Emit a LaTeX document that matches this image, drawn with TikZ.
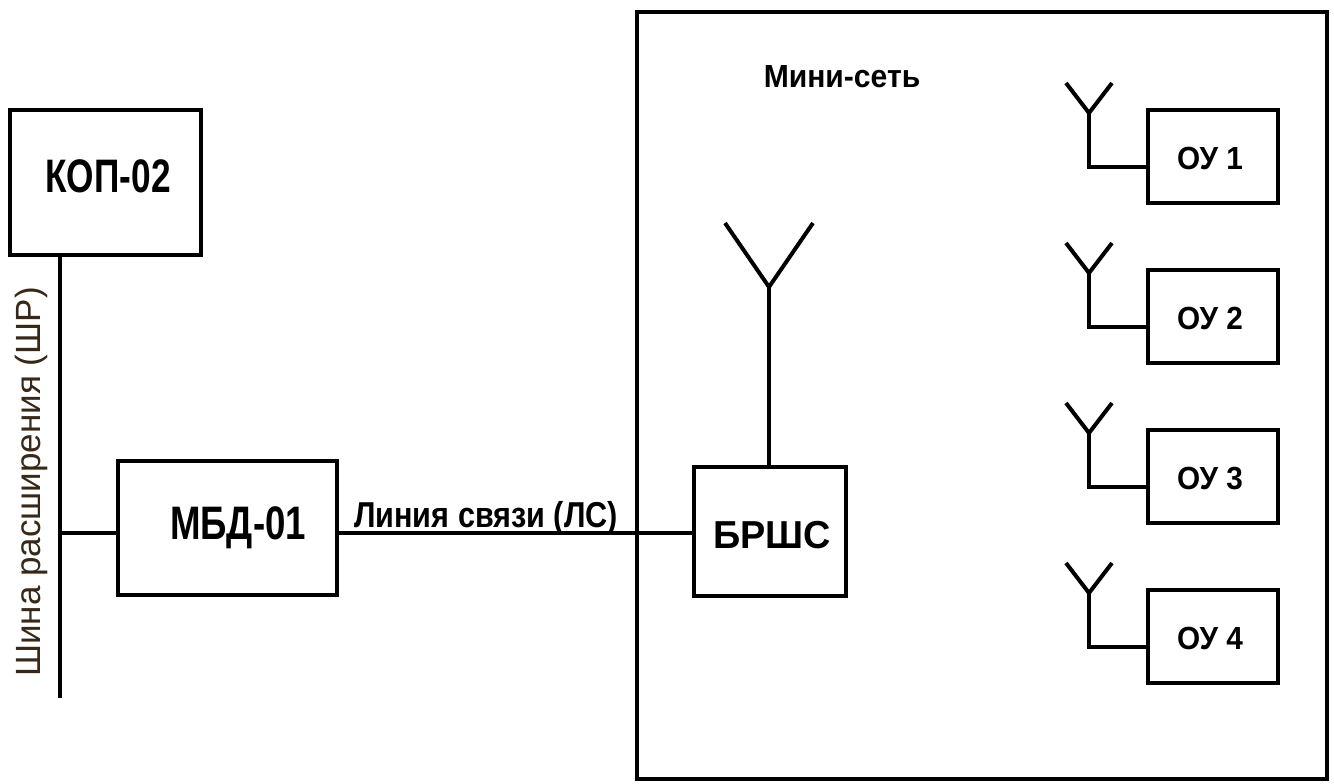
\documentclass[tikz,border=0pt]{standalone}
\usepackage{fontspec}
\usepackage{graphicx}
\setmainfont{Liberation Sans}
\definecolor{bustext}{RGB}{55,40,25}
\begin{document}
\begin{tikzpicture}[x=1pt,y=-1pt,
  line width=4pt,
  blk/.style={draw, line width=4pt, inner sep=0pt, outer sep=0pt},
  lbl/.style={inner sep=0pt, outer sep=0pt, anchor=base, font=\bfseries},
  wire/.style={line width=4pt},
  ant/.style={line width=4pt, line join=miter}]
\useasboundingbox (0,0) rectangle (1334,784);

% outer frame of the mini-network
\node[blk, minimum width=690pt, minimum height=767pt] (net) at (982,395.5) {};

% blocks
\node[blk, minimum width=191pt, minimum height=145pt] (kop) at (105.5,182.5) {};
\node[blk, minimum width=219pt, minimum height=134pt] (mbd) at (227.5,528) {};
\node[blk, minimum width=152pt, minimum height=129pt] (brs) at (770,531.5) {};

\foreach \k/\t in {1/108,2/268,3/428,4/588}{
  \node[blk, minimum width=130pt, minimum height=93pt] (ou\k) at (1213,\t+48.5) {};
  \node[lbl, font=\bfseries\fontsize{32}{36}\selectfont] (tou\k) at (1210,\t+61) {\scalebox{0.93}[1]{ОУ \k}};
  \coordinate (ap\k) at (1089,\t+5);
  \coordinate (al\k) at (1066,\t-25);
  \coordinate (ar\k) at (1112,\t-25);
  \coordinate (an\k) at (1089,\t+59);
  \draw[ant] (al\k) -- (ap\k) -- (ar\k);
  \draw[wire] (ap\k) -- (an\k) -- (ou\k.west |- an\k);
}

% labels
\node[lbl, font=\bfseries\fontsize{47}{50}\selectfont] (tkop) at (108,192) {\scalebox{0.75}[1]{КОП-02}};
\node[lbl, font=\bfseries\fontsize{47}{50}\selectfont] (tmbd) at (238,539) {\scalebox{0.78}[1]{МБД-01}};
\node[lbl, font=\bfseries\fontsize{39}{42}\selectfont] (tbrs) at (772,548) {\scalebox{0.97}[1]{БРШС}};
\node[lbl, font=\bfseries\fontsize{32}{36}\selectfont] (tnet) at (842,88) {\scalebox{0.94}[1]{Мини-сеть}};
\node[lbl, font=\bfseries\fontsize{36}{40}\selectfont] (tls) at (486,527) {\scalebox{0.85}[1]{Линия связи (ЛС)}};
\node[inner sep=0pt, anchor=base, rotate=90, text=bustext, font=\fontsize{35}{38}\selectfont] (tbus) at (40,482) {Шина расширения (ШР)};

% bus
\coordinate (bustop) at (60,255);
\coordinate (busbot) at (60,698);
\coordinate (busj) at (60,533);
\draw[wire] (bustop) -- (busbot);
\draw[wire] (busj) -- (mbd.west |- busj);
\draw[wire] (mbd.east |- busj) -- (brs.west |- busj);

% BRShS antenna
\coordinate (bap) at (769,287);
\coordinate (bal) at (725,223);
\coordinate (bar) at (813,223);
\draw[ant] (bal) -- (bap) -- (bar);
\draw[wire] (bap) -- (bap |- brs.north);
\end{tikzpicture}
\end{document}
